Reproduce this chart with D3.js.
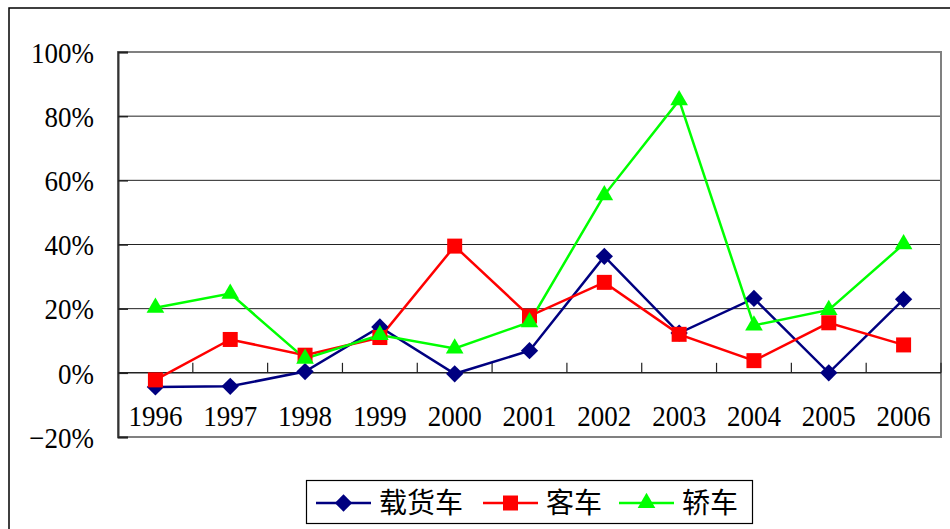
<!DOCTYPE html>
<html>
<head>
<meta charset="utf-8">
<script src="https://cdn.jsdelivr.net/npm/d3@7"></script>
<style>
  html, body { margin: 0; padding: 0; background: #fff; }
  svg { display: block; }
</style>
</head>
<body>
<svg id="chart" width="950" height="529"></svg>
<script>
// Annual growth rates by vehicle type
const years = ["1996","1997","1998","1999","2000","2001","2002","2003","2004","2005","2006"];
const trucks = [-4.4, -4.2, 0.4, 14.3, -0.3, 6.9, 36.3, 12.4, 23.2, 0.0, 22.9];   // 载货车
const buses  = [-2.2, 10.4, 5.5, 11.0, 39.5, 17.7, 28.2, 12.0, 3.8, 15.6, 8.7];   // 客车
const cars   = [20.3, 24.7, 4.4, 11.8, 7.6, 15.8, 55.4, 85.0, 14.8, 19.6, 40.1];  // 轿车
const yTicks = [-20, 0, 20, 40, 60, 80, 100];

const seriesNames = ["载货车", "客车", "轿车"];
const seriesData = [trucks, buses, cars];
const seriesColors = ["#000080", "#ff0000", "#00ff00"];
// diamond = square turned 45 degrees
const seriesShapes = [d3.symbolSquare, d3.symbolSquare, d3.symbolTriangle];
const seriesRotate = [45, 0, 0];
const markerSizes = [150, 225, 135];

const svg = d3.select("#chart");
const plot = { left: 118, right: 941, top: 52, bottom: 437 };

const x = d3.scaleBand().domain(years).range([plot.left, plot.right]).paddingInner(0).paddingOuter(0);
const y = d3.scaleLinear().domain([-20, 100]).range([plot.bottom, plot.top]);

const latinFont = "'Liberation Serif', 'DejaVu Serif', serif";
const cjkFont = "'Noto Sans CJK SC', sans-serif";
const digitScaleX = 0.9;

// outer chart frame
svg.append("rect")
  .attr("x", 9).attr("y", 8).attr("width", 960).attr("height", 540)
  .attr("fill", "none").attr("stroke", "#000").attr("stroke-width", 1.5);

// horizontal gridlines
svg.append("g")
  .selectAll("line")
  .data(yTicks.filter(t => t !== 100 && t !== -20 && t !== 0))
  .join("line")
  .attr("x1", plot.left).attr("x2", plot.right)
  .attr("y1", d => y(d)).attr("y2", d => y(d))
  .attr("stroke", "#222").attr("stroke-width", 1);

// plot area border
svg.append("rect")
  .attr("x", plot.left).attr("y", plot.top)
  .attr("width", plot.right - plot.left).attr("height", plot.bottom - plot.top)
  .attr("fill", "none").attr("stroke", "#808080").attr("stroke-width", 2);

// value axis
const yAxis = d3.axisRight(y).tickValues(yTicks).tickSize(10).tickFormat("");
const yg = svg.append("g").attr("transform", `translate(${plot.left},0)`).call(yAxis);
yg.select(".domain").attr("stroke", "#333").attr("stroke-width", 2);
yg.selectAll(".tick line").attr("stroke", "#222").attr("stroke-width", 1.5);

// value labels
svg.append("g")
  .selectAll("text")
  .data(yTicks)
  .join("text")
  .attr("transform", d => `translate(94,${y(d)}) scale(${digitScaleX},1)`)
  .attr("dy", "0.36em")
  .attr("text-anchor", "end")
  .attr("font-family", latinFont)
  .attr("font-size", 30)
  .attr("fill", "#000")
  .text(d => (d < 0 ? "\u2212" + Math.abs(d) : d) + "%");

// category axis on the zero line, ticks between categories pointing up
const boundaries = d3.range(1, years.length + 1).map(i => plot.left + x.step() * i);
svg.append("line")
  .attr("x1", plot.left).attr("x2", plot.right)
  .attr("y1", y(0)).attr("y2", y(0))
  .attr("stroke", "#222").attr("stroke-width", 1.5);
svg.append("g")
  .selectAll("line")
  .data(boundaries)
  .join("line")
  .attr("x1", d => d).attr("x2", d => d)
  .attr("y1", y(0)).attr("y2", y(0) - 10)
  .attr("stroke", "#222").attr("stroke-width", 1.2);

// category labels
svg.append("g")
  .selectAll("text")
  .data(years)
  .join("text")
  .attr("transform", d => `translate(${x(d) + x.bandwidth() / 2},426) scale(${digitScaleX},1)`)
  .attr("text-anchor", "middle")
  .attr("font-family", latinFont)
  .attr("font-size", 30)
  .attr("fill", "#000")
  .text(d => d);

// series lines and markers
const line = d3.line()
  .x((d, i) => x(years[i]) + x.bandwidth() / 2)
  .y(d => y(d));

seriesData.forEach((vals, s) => {
  svg.append("path")
    .datum(vals)
    .attr("d", line)
    .attr("fill", "none")
    .attr("stroke", seriesColors[s])
    .attr("stroke-width", 2.5);
});
seriesData.forEach((vals, s) => {
  svg.append("g")
    .selectAll("path")
    .data(vals)
    .join("path")
    .attr("transform", (d, i) => `translate(${x(years[i]) + x.bandwidth() / 2},${y(d)}) rotate(${seriesRotate[s]})`)
    .attr("d", d3.symbol().type(seriesShapes[s]).size(markerSizes[s]))
    .attr("fill", seriesColors[s]);
});

// legend
const legend = svg.append("g");
legend.append("rect")
  .attr("x", 306.5).attr("y", 480.5).attr("width", 446).attr("height", 43)
  .attr("fill", "#fff").attr("stroke", "#000").attr("stroke-width", 1.2);

const legendItems = [
  { lineX: 316, textX: 379 },
  { lineX: 483, textX: 546 },
  { lineX: 619, textX: 682 }
];
const legendY = 503;
seriesNames.forEach((name, s) => {
  const it = legendItems[s];
  legend.append("line")
    .attr("x1", it.lineX).attr("x2", it.lineX + 55)
    .attr("y1", legendY).attr("y2", legendY)
    .attr("stroke", seriesColors[s]).attr("stroke-width", 2.5);
  legend.append("path")
    .attr("transform", `translate(${it.lineX + 27.5},${legendY}) rotate(${seriesRotate[s]})`)
    .attr("d", d3.symbol().type(seriesShapes[s]).size(markerSizes[s]))
    .attr("fill", seriesColors[s]);
  legend.append("text")
    .attr("x", it.textX)
    .attr("y", legendY)
    .attr("dy", "0.36em")
    .attr("font-family", cjkFont)
    .attr("font-size", 28)
    .attr("fill", "#000")
    .text(name);
});
</script>
</body>
</html>
